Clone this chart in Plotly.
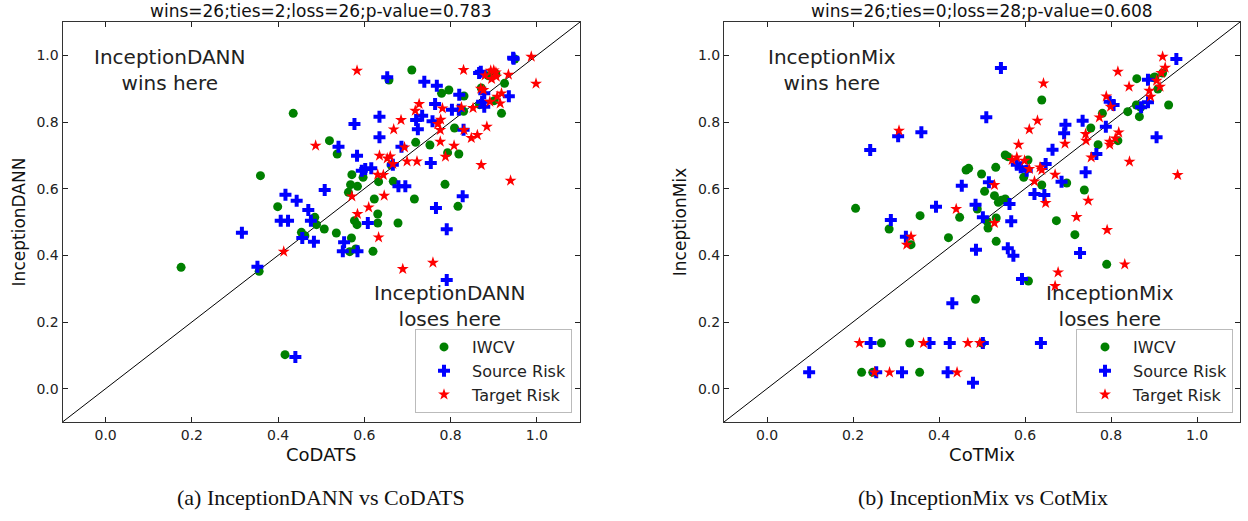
import plotly.graph_objects as go

# ---------------- data: left panel (InceptionDANN vs CoDATS) ----------------
left_title = "wins=26;ties=2;loss=26;p-value=0.783"
left_xlabel = "CoDATS"
left_ylabel = "InceptionDANN"
left_caption = "(a) InceptionDANN vs CoDATS"

left_iwcv = [
    (0.710, 0.956), (0.657, 0.926), (0.779, 0.886), (0.796, 0.896), (0.831, 0.878),
    (0.830, 0.832), (0.871, 0.902), (0.887, 0.939), (0.925, 0.916), (0.949, 0.989),
    (0.901, 0.864), (0.867, 0.852), (0.918, 0.826), (0.809, 0.782), (0.719, 0.739),
    (0.752, 0.731), (0.793, 0.708), (0.819, 0.704), (0.519, 0.744), (0.537, 0.704),
    (0.662, 0.671), (0.571, 0.642), (0.597, 0.634), (0.633, 0.621), (0.667, 0.622),
    (0.568, 0.612), (0.584, 0.607), (0.563, 0.589), (0.787, 0.613), (0.623, 0.569),
    (0.716, 0.569), (0.817, 0.547), (0.435, 0.826), (0.359, 0.639), (0.399, 0.546),
    (0.485, 0.514), (0.489, 0.492), (0.454, 0.469), (0.462, 0.459), (0.175, 0.364),
    (0.356, 0.352), (0.416, 0.102), (0.507, 0.479), (0.535, 0.467), (0.570, 0.452),
    (0.566, 0.411), (0.580, 0.419), (0.577, 0.504), (0.583, 0.492), (0.631, 0.524),
    (0.631, 0.497), (0.678, 0.497), (0.620, 0.412), (0.905, 0.944),
]
left_source = [
    (0.653, 0.934), (0.739, 0.921), (0.768, 0.909), (0.866, 0.947), (0.945, 0.993),
    (0.820, 0.882), (0.935, 0.877), (0.878, 0.886), (0.764, 0.854), (0.803, 0.837),
    (0.819, 0.837), (0.873, 0.861), (0.878, 0.846), (0.635, 0.816), (0.577, 0.794),
    (0.734, 0.819), (0.720, 0.806), (0.724, 0.778), (0.758, 0.802), (0.830, 0.777),
    (0.635, 0.754), (0.540, 0.726), (0.686, 0.726), (0.583, 0.699), (0.754, 0.677),
    (0.594, 0.654), (0.602, 0.659), (0.616, 0.661), (0.666, 0.672), (0.679, 0.607),
    (0.695, 0.607), (0.508, 0.596), (0.828, 0.577), (0.417, 0.582), (0.443, 0.564),
    (0.470, 0.536), (0.476, 0.504), (0.406, 0.504), (0.423, 0.504), (0.316, 0.468),
    (0.456, 0.452), (0.483, 0.441), (0.352, 0.366), (0.440, 0.095), (0.553, 0.439),
    (0.550, 0.412), (0.584, 0.412), (0.608, 0.497), (0.766, 0.542), (0.791, 0.478),
    (0.791, 0.326), (0.870, 0.951), (0.946, 0.990),
]
left_target = [
    (0.583, 0.954), (0.830, 0.956), (0.893, 0.954), (0.905, 0.949), (0.895, 0.929),
    (0.906, 0.936), (0.934, 0.942), (0.987, 0.996), (0.998, 0.915), (0.876, 0.896),
    (0.918, 0.886), (0.908, 0.876), (0.891, 0.861), (0.915, 0.856), (0.852, 0.842),
    (0.825, 0.844), (0.727, 0.854), (0.781, 0.841), (0.718, 0.834), (0.685, 0.806),
    (0.777, 0.807), (0.770, 0.794), (0.668, 0.778), (0.776, 0.776), (0.884, 0.786),
    (0.831, 0.776), (0.862, 0.761), (0.848, 0.752), (0.776, 0.741), (0.487, 0.729),
    (0.693, 0.724), (0.808, 0.729), (0.635, 0.699), (0.660, 0.697), (0.653, 0.691),
    (0.788, 0.696), (0.699, 0.682), (0.722, 0.682), (0.666, 0.674), (0.871, 0.671),
    (0.631, 0.642), (0.644, 0.641), (0.939, 0.624), (0.646, 0.579), (0.571, 0.577),
    (0.610, 0.544), (0.584, 0.524), (0.633, 0.454), (0.689, 0.359), (0.759, 0.378),
    (0.413, 0.411), (0.880, 0.940), (0.900, 0.955), (0.870, 0.900),
]

# ---------------- data: right panel (InceptionMix vs CoTMix) ----------------
right_title = "wins=26;ties=0;loss=28;p-value=0.608"
right_xlabel = "CoTMix"
right_ylabel = "InceptionMix"
right_caption = "(b) InceptionMix vs CotMix"

right_iwcv = [
    (0.639, 0.866), (0.860, 0.930), (0.899, 0.933), (0.920, 0.947), (0.909, 0.899),
    (0.839, 0.831), (0.859, 0.851), (0.869, 0.844), (0.866, 0.816), (0.934, 0.851),
    (0.780, 0.826), (0.753, 0.782), (0.770, 0.732), (0.816, 0.744), (0.554, 0.701),
    (0.560, 0.696), (0.607, 0.686), (0.597, 0.634), (0.639, 0.611), (0.697, 0.617),
    (0.738, 0.596), (0.463, 0.656), (0.469, 0.661), (0.499, 0.644), (0.532, 0.664),
    (0.506, 0.592), (0.529, 0.579), (0.554, 0.569), (0.538, 0.559), (0.489, 0.539),
    (0.206, 0.541), (0.356, 0.519), (0.448, 0.514), (0.284, 0.479), (0.335, 0.432),
    (0.422, 0.453), (0.485, 0.268), (0.266, 0.137), (0.332, 0.137), (0.500, 0.137),
    (0.220, 0.049), (0.246, 0.049), (0.355, 0.049), (0.512, 0.502), (0.514, 0.482),
    (0.533, 0.512), (0.533, 0.442), (0.673, 0.504), (0.716, 0.462), (0.790, 0.373),
    (0.608, 0.323), (0.902, 0.935), (0.545, 0.565),
]
right_source = [
    (0.240, 0.716), (0.305, 0.757), (0.359, 0.769), (0.453, 0.609), (0.393, 0.546),
    (0.485, 0.552), (0.544, 0.962), (0.510, 0.814), (0.952, 0.989), (0.886, 0.927),
    (0.906, 0.754), (0.797, 0.861), (0.806, 0.851), (0.870, 0.844), (0.886, 0.859),
    (0.788, 0.786), (0.734, 0.804), (0.694, 0.792), (0.691, 0.766), (0.664, 0.717),
    (0.766, 0.704), (0.648, 0.674), (0.581, 0.672), (0.590, 0.664), (0.604, 0.654),
    (0.741, 0.649), (0.685, 0.621), (0.516, 0.619), (0.622, 0.584), (0.645, 0.581),
    (0.564, 0.554), (0.288, 0.506), (0.323, 0.456), (0.486, 0.417), (0.431, 0.256),
    (0.241, 0.137), (0.378, 0.137), (0.425, 0.137), (0.502, 0.137), (0.637, 0.137),
    (0.098, 0.049), (0.254, 0.049), (0.314, 0.049), (0.420, 0.049), (0.479, 0.018),
    (0.502, 0.514), (0.568, 0.502), (0.560, 0.421), (0.573, 0.399), (0.728, 0.407),
    (0.593, 0.329),
]
right_target = [
    (0.307, 0.774), (0.440, 0.539), (0.920, 0.996), (0.926, 0.963), (0.917, 0.947),
    (0.906, 0.924), (0.914, 0.906), (0.889, 0.894), (0.892, 0.876), (0.816, 0.951),
    (0.842, 0.906), (0.789, 0.877), (0.799, 0.846), (0.773, 0.814), (0.818, 0.769),
    (0.810, 0.751), (0.797, 0.741), (0.797, 0.732), (0.741, 0.764), (0.742, 0.744),
    (0.754, 0.694), (0.843, 0.681), (0.955, 0.641), (0.643, 0.916), (0.629, 0.804),
    (0.610, 0.778), (0.585, 0.732), (0.693, 0.735), (0.581, 0.694), (0.570, 0.686),
    (0.599, 0.684), (0.610, 0.659), (0.635, 0.664), (0.639, 0.656), (0.670, 0.642),
    (0.622, 0.622), (0.529, 0.611), (0.648, 0.557), (0.747, 0.564), (0.335, 0.456),
    (0.325, 0.432), (0.215, 0.137), (0.364, 0.137), (0.467, 0.137), (0.495, 0.137),
    (0.250, 0.049), (0.285, 0.049), (0.442, 0.049), (0.529, 0.497), (0.720, 0.515),
    (0.791, 0.476), (0.832, 0.373), (0.677, 0.349), (0.670, 0.308),
]

series_names = ["IWCV", "Source Risk", "Target Risk"]
diag = [-0.1, 1.1]
tick_vals = [0.0, 0.2, 0.4, 0.6, 0.8, 1.0]
tick_text = ["0.0", "0.2", "0.4", "0.6", "0.8", "1.0"]

# ---------------- styling ----------------
FONT = "DejaVu Sans"
styles = {
    "IWCV": dict(symbol="circle", color="#008000", size=9),
    "Source Risk": dict(symbol="cross", color="#0000ff", size=10),
    "Target Risk": dict(symbol="star", color="#ff0000", size=9),
}

fig = go.Figure()

panels = [
    dict(data=[left_iwcv, left_source, left_target], xa="x", ya="y", legend="legend"),
    dict(data=[right_iwcv, right_source, right_target], xa="x2", ya="y2", legend="legend2"),
]

for p in panels:
    fig.add_trace(go.Scatter(
        x=diag, y=diag, mode="lines", xaxis=p["xa"], yaxis=p["ya"],
        line=dict(color="black", width=1), showlegend=False, hoverinfo="skip",
    ))
    for name, pts in zip(series_names, p["data"]):
        st = styles[name]
        fig.add_trace(go.Scatter(
            x=[a for a, b in pts], y=[b for a, b in pts],
            mode="markers", name=name, xaxis=p["xa"], yaxis=p["ya"],
            legend=p["legend"],
            marker=dict(symbol=st["symbol"], color=st["color"], size=st["size"],
                        line=dict(width=0)),
        ))

W, H = 1248, 521


def px(x):
    return x / W


def py(y):
    return (H - y) / H


xdom_l = [px(62.5), px(580)]
xdom_r = [px(724), px(1240)]
ydom = [py(422), py(22)]


def axis_common(title, domain, anchor):
    return dict(
        domain=domain, anchor=anchor, range=[-0.1, 1.1],
        tickvals=tick_vals, ticktext=tick_text,
        ticks="inside", ticklen=5, tickwidth=1, tickcolor="#222",
        showline=True, linecolor="#333", linewidth=1, mirror="ticks",
        showgrid=False, zeroline=False,
        tickfont=dict(family=FONT, size=14, color="#222"),
        title=dict(text=title, font=dict(family=FONT, size=18, color="#111"), standoff=6),
    )


leg_common = dict(xanchor="right", yanchor="bottom", bgcolor="white",
                  bordercolor="#bbbbbb", borderwidth=1, itemwidth=46,
                  font=dict(family=FONT, size=16, color="#222"))

fig.update_layout(
    width=W, height=H,
    margin=dict(l=0, r=0, t=0, b=0),
    paper_bgcolor="white", plot_bgcolor="white",
    font=dict(family=FONT, color="#222"),
    xaxis=axis_common(left_xlabel, xdom_l, "y"),
    yaxis=axis_common(left_ylabel, ydom, "x"),
    xaxis2=axis_common(right_xlabel, xdom_r, "y2"),
    yaxis2=axis_common(right_ylabel, ydom, "x2"),
    legend=dict(x=px(572), y=py(413), **leg_common),
    legend2=dict(x=px(1233), y=py(413), **leg_common),
    showlegend=True,
)
fig.update_yaxes(title_font_size=17)

ann_font = dict(family=FONT, size=20, color="#222")
annotations = [
    dict(text="InceptionDANN<br>wins here", x=0.150, y=0.955, xref="x", yref="y"),
    dict(text="InceptionDANN<br>loses here", x=0.799, y=0.249, xref="x", yref="y"),
    dict(text="InceptionMix<br>wins here", x=0.150, y=0.955, xref="x2", yref="y2"),
    dict(text="InceptionMix<br>loses here", x=0.798, y=0.249, xref="x2", yref="y2"),
]
for a in annotations:
    fig.add_annotation(showarrow=False, font=ann_font, xanchor="center", yanchor="middle", **a)

for title, dom in [(left_title, xdom_l), (right_title, xdom_r)]:
    fig.add_annotation(text=title, x=(dom[0] + dom[1]) / 2, y=ydom[1], xref="paper", yref="paper",
                       xanchor="center", yanchor="bottom", yshift=-1, showarrow=False,
                       font=dict(family=FONT, size=17, color="#111"))

for cap, cx in [(left_caption, 321), (right_caption, 983)]:
    fig.add_annotation(text=cap, x=px(cx), y=py(497), xref="paper", yref="paper",
                       xanchor="center", yanchor="middle", showarrow=False,
                       font=dict(family="Liberation Serif", size=22, color="#111"))

fig.write_html(
    "out.html",
    config={"displayModeBar": False},
    post_script="document.body.style.margin='0';document.body.style.padding='0';",
)
